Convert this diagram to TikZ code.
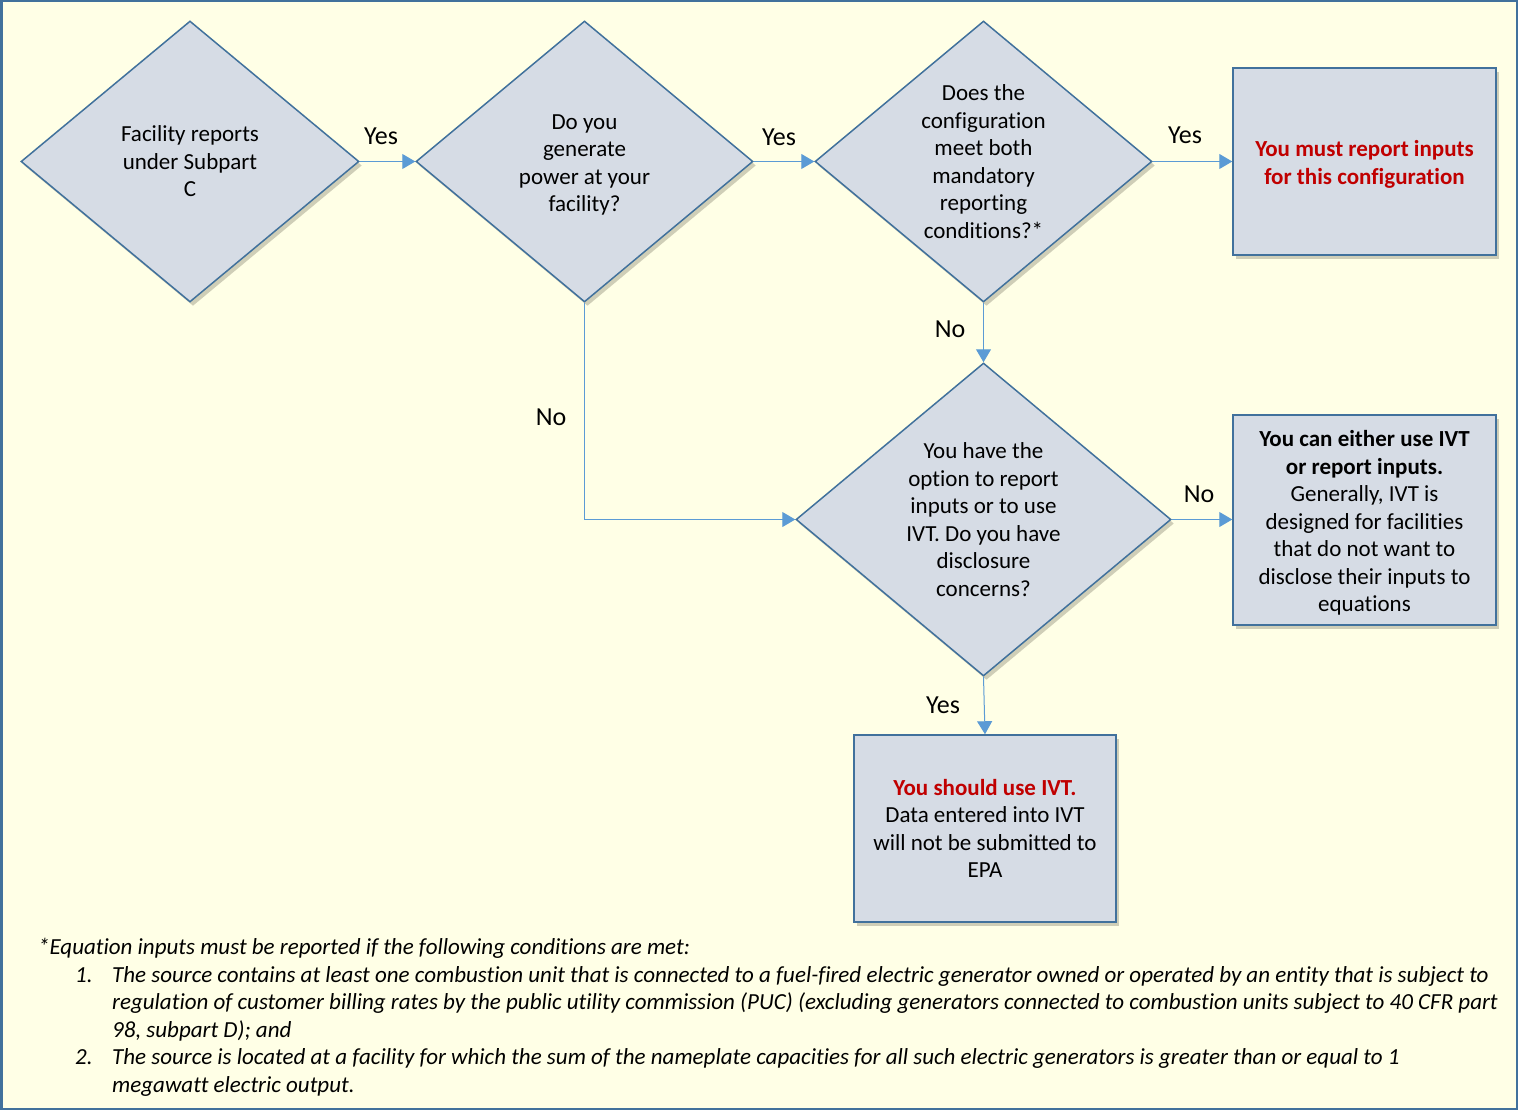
\documentclass[tikz,border=0pt]{standalone}
\usepackage{fontspec}
\setmainfont{Carlito}[Ligatures=NoCommon]
\usetikzlibrary{shapes.geometric,arrows.meta,shadows}
\definecolor{bgc}{HTML}{FFFFE6}
\definecolor{fillc}{HTML}{D6DCE5}
\definecolor{edgec}{HTML}{41719C}
\definecolor{arrc}{HTML}{5B9BD5}
\definecolor{redc}{HTML}{C00000}
\begin{document}
\begin{tikzpicture}[x=1pt,y=-1pt,
  shapeshadow/.style={drop shadow={shadow xshift=3pt,shadow yshift=-4pt,fill=black!70!olive,opacity=0.25}},
  decision/.style={diamond,draw=edgec,line width=1.5pt,fill=fillc,inner sep=0pt,align=center,
    font=\fontsize{23}{27.5}\selectfont,shapeshadow},
  outcome/.style={rectangle,draw=edgec,line width=1.5pt,fill=fillc,inner sep=0pt,align=center,
    font=\fontsize{23}{27.5}\selectfont,shapeshadow},
  txt/.style={inner sep=0pt,align=center,font=\fontsize{23}{27.5}\selectfont},
  flow/.style={draw=arrc,line width=1pt,-{Triangle[length=13pt,width=15pt]}},
  lbl/.style={font=\fontsize{26}{30}\selectfont,inner sep=0pt},
  note/.style={anchor=base west,inner sep=0pt,font=\fontsize{23}{27.5}\selectfont\itshape}]
\useasboundingbox (0,0) rectangle (1518,1115);
\fill[white] (0,0) rectangle (1518,1115);
\draw[edgec,line width=2.5pt,fill=bgc] (1.25,1.25) rectangle (1516.75,1108.75);

% decisions
\node[decision,minimum width=338pt,minimum height=281pt] (d1) at (190,161.5)
  {Facility reports\\under Subpart\\C};
\node[decision,minimum width=337pt,minimum height=281pt] (d2) at (584.5,161.5) {};
\node[txt] (d2t) at (584.5,165) {Do you\\generate\\power at your\\facility?};
\node[decision,minimum width=337pt,minimum height=281pt] (d3) at (983.5,161.5)
  {Does the\\configuration\\meet both\\mandatory\\reporting\\conditions?*};
\node[decision,minimum width=375pt,minimum height=313pt] (d4) at (983.5,519.5)
  {You have the\\option to report\\inputs or to use\\IVT. Do you have\\disclosure\\concerns?};

% outcomes
\node[outcome,minimum width=263pt,minimum height=187pt] (b1) at (1364.5,161.5) {};
\node[txt,text=redc,font=\fontsize{23}{27.5}\selectfont\bfseries] (b1t) at (1364.5,164.5)
  {You must report inputs\\for this configuration};
\node[outcome,minimum width=263pt,minimum height=210pt] (b2) at (1364.5,520) {};
\node[txt] (b2t) at (1364.5,523)
  {\bfseries You can either use IVT\\\bfseries or report inputs.\\Generally, IVT is\\designed for facilities\\that do not want to\\disclose their inputs to\\equations};
\node[outcome,minimum width=262pt,minimum height=187pt] (b3) at (985,828.5)
  {\textcolor{redc}{\bfseries You should use IVT.}\\Data entered into IVT\\will not be submitted to\\EPA};

% connectors
\draw[flow] (d1.east) -- (d2.west);
\draw[flow] (d2.east) -- (d3.west);
\draw[flow] (d3.east) -- (b1.west);
\draw[flow] (d3.south) -- (d4.north);
\draw[flow] (d2.south) |- (d4.west);
\draw[flow] (d4.east) -- (d4.east -| b2.west);
\draw[flow] (d4.south) -- (b3.north);

% labels
\node[lbl] (l1) at (381,136) {Yes};
\node[lbl] (l2) at (779,137) {Yes};
\node[lbl] (l3) at (1185,135) {Yes};
\node[lbl] (l4) at (950,329) {No};
\node[lbl] (l5) at (551,417) {No};
\node[lbl] (l6) at (1199,494) {No};
\node[lbl] (l7) at (943,705) {Yes};

% footnote
\node[note] (n0) at (38,954) {*Equation inputs must be reported if the following conditions are met:};
\node[note] (n1a) at (75,982) {1.};
\node[note] (n1b) at (112,982) {The source contains at least one combustion unit that is connected to a fuel-fired electric generator owned or operated by an entity that is subject to};
\node[note] (n1c) at (112,1009) {regulation of customer billing rates by the public utility commission (PUC) (excluding generators connected to combustion units subject to 40 CFR part};
\node[note] (n1d) at (112,1037) {98, subpart D); and};
\node[note] (n2a) at (75,1064) {2.};
\node[note] (n2b) at (112,1064) {The source is located at a facility for which the sum of the nameplate capacities for all such electric generators is greater than or equal to 1};
\node[note] (n2c) at (112,1092) {megawatt electric output.};
\end{tikzpicture}
\end{document}
